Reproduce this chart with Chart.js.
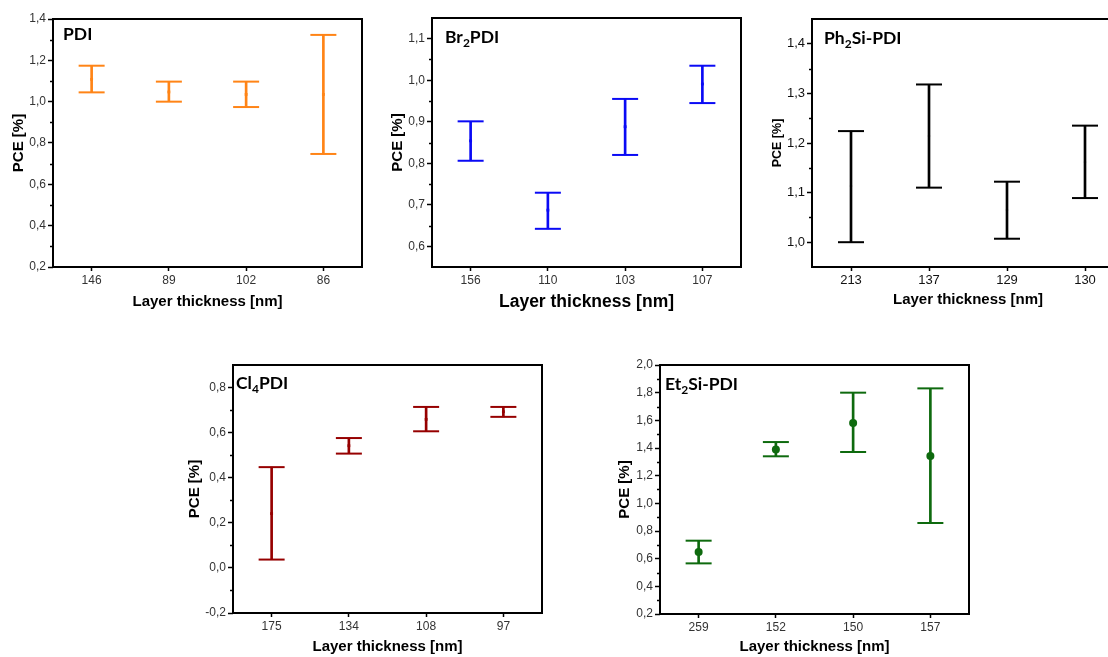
<!DOCTYPE html>
<html>
<head>
<meta charset="utf-8">
<script src="https://cdn.jsdelivr.net/npm/chart.js@4.4.0/dist/chart.umd.min.js"></script>
<style>
    html, body { margin: 0; padding: 0; background: #fff; width: 1108px; height: 657px; overflow: hidden; position: relative; }
    canvas { position: absolute; }
</style>
</head>
<body>
<canvas id="pdi"></canvas>
<canvas id="br2pdi"></canvas>
<canvas id="ph2si"></canvas>
<canvas id="cl4pdi"></canvas>
<canvas id="et2si"></canvas>
<script>
// --- PDI ---
const pdiLabels = ['146', '89', '102', '86'];
const pdiMean = [1.108, 1.047, 1.035, 1.035];
const pdiLow = [1.045, 1.0, 0.974, 0.747];
const pdiHigh = [1.174, 1.097, 1.097, 1.323];
const pdiTicks = [0.2, 0.4, 0.6, 0.8, 1.0, 1.2, 1.4];
const pdiMinor = [0.3, 0.5, 0.7, 0.9, 1.1, 1.3];
const pdiTitle = [['PDI', false]];

// --- Br2PDI ---
const brLabels = ['156', '110', '103', '107'];
const brMean = [0.854, 0.687, 0.888, 0.991];
const brLow = [0.806, 0.642, 0.82, 0.945];
const brHigh = [0.901, 0.729, 0.955, 1.035];
const brTicks = [0.6, 0.7, 0.8, 0.9, 1.0, 1.1];
const brMinor = [0.65, 0.75, 0.85, 0.95, 1.05];
const brTitle = [['Br', false], ['2', true], ['PDI', false]];

// --- Ph2Si-PDI ---
const phLabels = ['213', '137', '129', '130'];
const phMean = [1.113, 1.214, 1.065, 1.161];
const phLow = [1.0, 1.11, 1.007, 1.089];
const phHigh = [1.224, 1.318, 1.122, 1.235];
const phTicks = [1.0, 1.1, 1.2, 1.3, 1.4];
const phMinor = [1.05, 1.15, 1.25, 1.35];
const phTitle = [['Ph', false], ['2', true], ['Si-PDI', false]];

// --- Cl4PDI ---
const clLabels = ['175', '134', '108', '97'];
const clMean = [0.241, 0.542, 0.659, 0.693];
const clLow = [0.037, 0.507, 0.606, 0.67];
const clHigh = [0.447, 0.576, 0.714, 0.714];
const clTicks = [-0.2, 0.0, 0.2, 0.4, 0.6, 0.8];
const clMinor = [-0.1, 0.1, 0.3, 0.5, 0.7];
const clTitle = [['Cl', false], ['4', true], ['PDI', false]];

// --- Et2Si-PDI ---
const etLabels = ['259', '152', '150', '157'];
const etMean = [0.648, 1.39, 1.581, 1.342];
const etLow = [0.566, 1.34, 1.371, 0.858];
const etHigh = [0.73, 1.443, 1.8, 1.831];
const etTicks = [0.2, 0.4, 0.6, 0.8, 1.0, 1.2, 1.4, 1.6, 1.8, 2.0];
const etMinor = [0.3, 0.5, 0.7, 0.9, 1.1, 1.3, 1.5, 1.7, 1.9];
const etTitle = [['Et', false], ['2', true], ['Si-PDI', false]];

const FONT = "'Liberation Sans', Arial, sans-serif";
const TITLE_FONT = "Lato, 'Open Sans', sans-serif";

// rahmen, kleine ticks und titel im plot
const panelDecor = {
    id: 'panelDecor',
    afterDraw(chart, args, opts) {
        const { ctx, chartArea: a } = chart;
        const y = chart.scales.y;
        ctx.save();
        ctx.strokeStyle = '#000';
        ctx.lineWidth = 2;
        ctx.strokeRect(a.left, a.top, a.right - a.left, a.bottom - a.top);

        ctx.lineWidth = 1.5;
        opts.minor.forEach(v => {
            const py = Math.round(y.getPixelForValue(v)) + 0.5;
            ctx.beginPath();
            ctx.moveTo(a.left - 3, py);
            ctx.lineTo(a.left, py);
            ctx.stroke();
        });

        let x = a.left + opts.dx;
        const base = a.top + opts.dy;
        ctx.fillStyle = '#000';
        ctx.textBaseline = 'alphabetic';
        opts.title.forEach(([txt, sub]) => {
            ctx.font = sub ? `bold 12px ${TITLE_FONT}` : `bold 17.5px ${TITLE_FONT}`;
            ctx.fillText(txt, x, sub ? base + 4 : base);
            x += ctx.measureText(txt).width;
        });
        ctx.restore();
    }
};

function makePanel(id, p) {
    const cv = document.getElementById(id);
    cv.width = p.box.w;
    cv.height = p.box.h;
    cv.style.left = p.box.x + 'px';
    cv.style.top = p.box.y + 'px';

    const yW = p.area.L - p.box.x;
    const xH = p.box.y + p.box.h - p.area.B;
    const yLh = p.yTitleSize * 1.2;
    const xLh = p.xTitleSize * 1.2;

    new Chart(cv, {
        type: 'bar',
        data: {
            labels: p.labels,
            datasets: [
                {
                    type: 'bar',
                    data: p.low.map((v, i) => [v, p.high[i]]),
                    backgroundColor: p.color,
                    borderWidth: 0,
                    barThickness: 2,
                    order: 3
                },
                {
                    type: 'line',
                    data: p.high,
                    showLine: false,
                    pointStyle: 'line',
                    pointRadius: 13,
                    pointBorderWidth: 2,
                    pointBorderColor: p.color,
                    borderColor: p.color,
                    order: 2
                },
                {
                    type: 'line',
                    data: p.low,
                    showLine: false,
                    pointStyle: 'line',
                    pointRadius: 13,
                    pointBorderWidth: 2,
                    pointBorderColor: p.color,
                    borderColor: p.color,
                    order: 2
                },
                {
                    type: 'line',
                    data: p.mean,
                    showLine: false,
                    pointStyle: p.marker,
                    pointRadius: p.markerR,
                    pointBackgroundColor: p.color,
                    pointBorderColor: p.color,
                    pointBorderWidth: 0,
                    order: 1
                }
            ]
        },
        options: {
            responsive: false,
            animation: false,
            layout: {
                autoPadding: false,
                padding: { left: 0, top: p.area.T - p.box.y, right: p.box.x + p.box.w - p.area.R, bottom: 0 }
            },
            plugins: {
                legend: { display: false },
                tooltip: { enabled: false },
                panelDecor: { minor: p.minor, title: p.title, dx: p.tdx, dy: p.tdy }
            },
            scales: {
                x: {
                    type: 'category',
                    offset: true,
                    grid: { offset: false, drawOnChartArea: false, drawTicks: true, tickLength: 4, tickWidth: 1.5, tickColor: '#000' },
                    border: { display: false },
                    ticks: { font: { family: FONT, size: p.tickSize }, color: p.tickColor, padding: 2, maxRotation: 0, autoSkip: false },
                    title: {
                        display: true,
                        text: 'Layer thickness [nm]',
                        color: '#000',
                        font: { family: FONT, size: p.xTitleSize, weight: 'bold' },
                        padding: { top: 0, bottom: p.box.y + p.box.h - p.xTitleY - xLh / 2 }
                    },
                    afterFit(s) { s.height = xH; }
                },
                y: {
                    type: 'linear',
                    min: p.min,
                    max: p.max,
                    afterBuildTicks(s) { s.ticks = p.ticks.map(v => ({ value: v })); },
                    grid: { drawOnChartArea: false, drawTicks: true, tickLength: 5, tickWidth: 1.5, tickColor: '#000' },
                    border: { display: false },
                    ticks: {
                        font: { family: FONT, size: p.yTickSize },
                        color: p.tickColor,
                        padding: 2,
                        callback: v => v.toFixed(1).replace('.', ',')
                    },
                    title: {
                        display: true,
                        text: 'PCE [%]',
                        color: '#000',
                        font: { family: FONT, size: p.yTitleSize, weight: 'bold' },
                        padding: { top: p.yTitleX - p.box.x - yLh / 2, bottom: 0 }
                    },
                    afterFit(s) { s.width = yW; }
                }
            }
        },
        plugins: [panelDecor]
    });
}

makePanel('pdi', {
    labels: pdiLabels, mean: pdiMean, low: pdiLow, high: pdiHigh, ticks: pdiTicks, minor: pdiMinor, title: pdiTitle,
    min: 0.2, max: 1.4, color: '#FF8416', marker: 'rect', markerR: 2,
    box: { x: 0, y: 0, w: 372, h: 320 }, area: { L: 53, T: 19, R: 362, B: 267 },
    yTitleX: 19, xTitleY: 301.5, yTitleSize: 15, xTitleSize: 15, tickSize: 12, yTickSize: 12, tickColor: '#333',
    tdx: 10, tdy: 21
});

makePanel('br2pdi', {
    labels: brLabels, mean: brMean, low: brLow, high: brHigh, ticks: brTicks, minor: brMinor, title: brTitle,
    min: 0.55, max: 1.15, color: '#0A0AF5', marker: 'rect', markerR: 2,
    box: { x: 375, y: 0, w: 375, h: 320 }, area: { L: 432, T: 18, R: 741, B: 267 },
    yTitleX: 397.5, xTitleY: 302, yTitleSize: 15, xTitleSize: 17.5, tickSize: 12, yTickSize: 12, tickColor: '#333',
    tdx: 13, tdy: 25
});

makePanel('ph2si', {
    labels: phLabels, mean: phMean, low: phLow, high: phHigh, ticks: phTicks, minor: phMinor, title: phTitle,
    min: 0.95, max: 1.45, color: '#000', marker: 'rect', markerR: 1.5,
    box: { x: 760, y: 0, w: 380, h: 320 }, area: { L: 812, T: 19, R: 1124, B: 267 },
    yTitleX: 777.5, xTitleY: 300, yTitleSize: 12.5, xTitleSize: 15, tickSize: 13, yTickSize: 13, tickColor: '#111',
    tdx: 12, tdy: 25
});

makePanel('cl4pdi', {
    labels: clLabels, mean: clMean, low: clLow, high: clHigh, ticks: clTicks, minor: clMinor, title: clTitle,
    min: -0.2, max: 0.9, color: '#960000', marker: 'rect', markerR: 2,
    box: { x: 180, y: 355, w: 372, h: 302 }, area: { L: 233, T: 365, R: 542, B: 613 },
    yTitleX: 194.5, xTitleY: 647, yTitleSize: 15, xTitleSize: 15, tickSize: 12, yTickSize: 12, tickColor: '#333',
    tdx: 3, tdy: 24
});

makePanel('et2si', {
    labels: etLabels, mean: etMean, low: etLow, high: etHigh, ticks: etTicks, minor: etMinor, title: etTitle,
    min: 0.2, max: 2.0, color: '#0E6A0E', marker: 'circle', markerR: 4,
    box: { x: 605, y: 355, w: 372, h: 302 }, area: { L: 660, T: 365, R: 969, B: 614 },
    yTitleX: 625, xTitleY: 647, yTitleSize: 15, xTitleSize: 15, tickSize: 12, yTickSize: 12, tickColor: '#333',
    tdx: 5, tdy: 25
});
</script>
</body>
</html>
